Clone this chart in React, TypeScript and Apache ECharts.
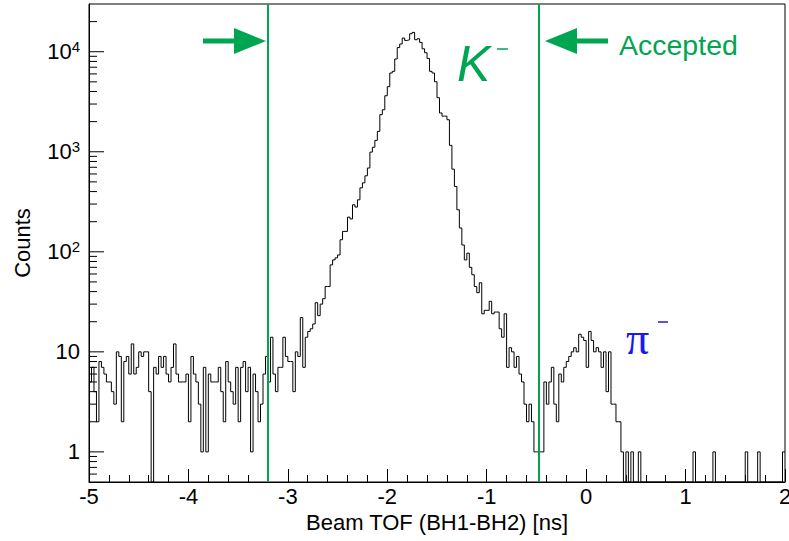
import React, { useEffect, useRef } from "react";
import * as echarts from "echarts";

// Histogram binning (Beam TOF, ns)
const X_MIN = -5;
const X_MAX = 2;
const BIN_WIDTH = 0.025;
const Y_MIN = 0.5;
const Y_MAX = 30000;

// Acceptance window cut positions (ns)
const CUT_LOW = -3.2;
const CUT_HIGH = -0.48;

// Counts per bin (bins 0..71: flat background)
const COUNTS_BKG = [
  5, 7, 4, 2, 8, 7, 6, 5, 5, 4,
  3, 10, 9, 2, 8, 9, 6, 12, 6, 7,
  10, 9, 10, 10, 4, 0, 7, 6, 9, 7,
  9, 6, 5, 7, 12, 6, 5, 5, 5, 6,
  2, 9, 6, 5, 3, 1, 7, 1, 6, 5,
  5, 5, 7, 4, 2, 8, 5, 4, 3, 7,
  2, 7, 8, 4, 7, 1, 6, 4, 2, 3,
  6, 9,
];
// bins 72..182: K- peak
const COUNTS_KAON = [
  5, 14, 6, 4, 7, 7, 14, 9, 8, 8,
  4, 10, 9, 22, 7, 14, 16, 17, 19, 31,
  23, 30, 34, 45, 45, 74, 83, 87, 93, 132,
  160, 160, 222, 213, 295, 280, 331, 436, 489, 575,
  688, 992, 1109, 1300, 1600, 2350, 2630, 3630, 4470, 6130,
  6370, 8460, 11000, 11950, 13700, 12970, 13180, 15140, 15600, 13180,
  13490, 12400, 10700, 9770, 8570, 6370, 6130, 5010, 3470, 2440,
  2270, 2270, 2090, 1160, 670, 450, 263, 173, 117, 83,
  97, 70, 59, 45, 39, 49, 24, 26, 26, 32,
  24, 25, 25, 17, 14, 24, 7, 11, 10, 7,
  9, 6, 5, 3, 2, 3, 2, 1, 1, 1, 1,
];
// bins 183..221: pi- peak
const COUNTS_PION = [
  5, 3, 5, 7, 3, 2, 6, 5, 7, 8,
  9, 10, 11, 10, 15, 14, 13, 7, 16, 13,
  10, 11, 10, 7, 10, 4, 10, 3, 3, 2,
  2, 1, 0, 1, 0, 1, 0, 0, 1,
];
// bins 222..279: tail
const COUNTS_TAIL = [
  0, 0, 0, 0, 0, 0, 0, 0, 0, 0,
  0, 0, 0, 0, 0, 0, 0, 0, 0, 0,
  0, 1, 0, 0, 0, 0, 0, 0, 0, 1,
  0, 0, 0, 0, 0, 0, 0, 0, 0, 0,
  0, 0, 1, 0, 0, 0, 0, 1, 0, 0,
  0, 0, 0, 0, 0, 0, 0, 1,
];

const Y_MAJOR_TICKS = [1, 10, 100, 1000, 10000];
const Y_MINOR_TICKS = [
  0.6, 0.7, 0.8, 0.9,
  2, 3, 4, 5, 6, 7, 8, 9,
  20, 30, 40, 50, 60, 70, 80, 90,
  200, 300, 400, 500, 600, 700, 800, 900,
  2000, 3000, 4000, 5000, 6000, 7000, 8000, 9000,
  20000,
];

const GREEN = "#00a551";
const BLUE = "#1a1aee";
const FONT = "'Liberation Sans', Arial, Helvetica, sans-serif";

export default function App() {
  const ref = useRef<HTMLDivElement>(null);

  useEffect(() => {
    if (!ref.current) return;
    document.body.style.margin = "0";
    const chart = echarts.init(ref.current, null, { renderer: "svg" });

    const counts = [...COUNTS_BKG, ...COUNTS_KAON, ...COUNTS_PION, ...COUNTS_TAIL];
    const histData: number[][] = counts.map((c, i) => [X_MIN + i * BIN_WIDTH, c > 0 ? c : Y_MIN]);
    const last = counts[counts.length - 1];
    histData.push([X_MAX, last > 0 ? last : Y_MIN]);

    const tickSeries = (vals: number[], len: number) => ({
      type: "custom",
      silent: true,
      z: 5,
      clip: false,
      data: vals.map((v) => [X_MIN, v]),
      encode: { x: 0, y: 1 },
      renderItem: (_p: any, api: any) => {
        const pt = api.coord([api.value(0), api.value(1)]);
        return {
          type: "line",
          shape: { x1: pt[0], y1: pt[1], x2: pt[0] + len, y2: pt[1] },
          style: { stroke: "#000", lineWidth: 1 },
        };
      },
    });

    const supFmt = (v: number) => {
      const l = Math.log10(v);
      const e = Math.round(l);
      if (Math.abs(l - e) > 1e-6) return "";
      if (e === 0) return "1";
      if (e === 1) return "10";
      return `{b|10}{s|${e}}`;
    };

    chart.setOption({
      animation: false,
      textStyle: { fontFamily: FONT },
      grid: {
        left: 89,
        top: 4,
        width: 696,
        height: 478,
        containLabel: false,
        outerBoundsMode: "none",
        show: true,
        borderColor: "#000",
        borderWidth: 1,
        backgroundColor: "transparent",
      },
      xAxis: {
        type: "value",
        min: X_MIN,
        max: X_MAX,
        interval: 1,
        name: "Beam TOF (BH1-BH2) [ns]",
        nameLocation: "middle",
        nameGap: 29,
        nameTextStyle: { fontSize: 22, color: "#000", fontFamily: FONT },
        axisLine: { show: true, onZero: false, lineStyle: { color: "#000", width: 1 } },
        axisTick: { show: true, inside: true, length: 13, lineStyle: { color: "#000", width: 1 } },
        minorTick: { show: true, splitNumber: 5, length: 7, lineStyle: { color: "#000", width: 1 } },
        splitLine: { show: false },
        minorSplitLine: { show: false },
        axisLabel: { fontSize: 22, color: "#000", margin: 3, fontFamily: FONT },
      },
      yAxis: {
        type: "log",
        logBase: 10,
        min: Y_MIN,
        max: Y_MAX,
        name: "Counts",
        nameLocation: "middle",
        nameGap: 56,
        nameTextStyle: { fontSize: 22, color: "#000", fontFamily: FONT },
        axisLine: { show: true, onZero: false, lineStyle: { color: "#000", width: 1 } },
        axisTick: { show: false },
        splitLine: { show: false },
        axisLabel: {
          fontSize: 22,
          color: "#000",
          margin: 9,
          fontFamily: FONT,
          formatter: supFmt,
          rich: {
            b: { fontSize: 22, fontFamily: FONT, color: "#000" },
            s: { fontSize: 15, fontFamily: FONT, color: "#000", verticalAlign: "top", padding: [0, 0, 10, 0] },
          },
        },
      },
      series: [
        {
          type: "line",
          step: "end",
          data: histData,
          symbol: "none",
          lineStyle: { color: "#000", width: 1 },
          z: 3,
          markLine: {
            silent: true,
            symbol: "none",
            label: { show: false },
            lineStyle: { color: GREEN, width: 2, type: "solid" },
            data: [{ xAxis: CUT_LOW }, { xAxis: CUT_HIGH }],
          },
        },
        tickSeries(Y_MAJOR_TICKS, 15),
        tickSeries(Y_MINOR_TICKS, 8),
      ],
      graphic: [
        { type: "rect", shape: { x: 203, y: 38.5, width: 33, height: 5 }, style: { fill: GREEN } },
        { type: "polygon", shape: { points: [[234, 28], [266, 41], [234, 54]] }, style: { fill: GREEN } },
        { type: "polygon", shape: { points: [[545, 41], [577, 28], [577, 54]] }, style: { fill: GREEN } },
        { type: "rect", shape: { x: 575, y: 38.5, width: 33, height: 5 }, style: { fill: GREEN } },
        {
          type: "text",
          x: 619,
          y: 45,
          style: { text: "Accepted", fill: GREEN, fontSize: 28.5, fontFamily: FONT, verticalAlign: "middle" },
        },
        {
          type: "text",
          x: 457,
          y: 64,
          style: { text: "K", fill: GREEN, fontSize: 50, fontStyle: "italic", fontFamily: FONT, verticalAlign: "middle" },
        },
        { type: "line", shape: { x1: 497, y1: 49, x2: 508, y2: 49 }, style: { stroke: GREEN, lineWidth: 1.5 } },
        {
          type: "text",
          x: 626,
          y: 338,
          style: { text: "π", fill: BLUE, fontSize: 46, fontFamily: "'Liberation Serif', 'DejaVu Serif', serif", verticalAlign: "middle" },
        },
        { type: "line", shape: { x1: 658, y1: 322, x2: 668, y2: 322 }, style: { stroke: BLUE, lineWidth: 1.5 } },
      ],
    });

    return () => chart.dispose();
  }, []);

  return <div ref={ref} style={{ width: 789, height: 541 }} />;
}
